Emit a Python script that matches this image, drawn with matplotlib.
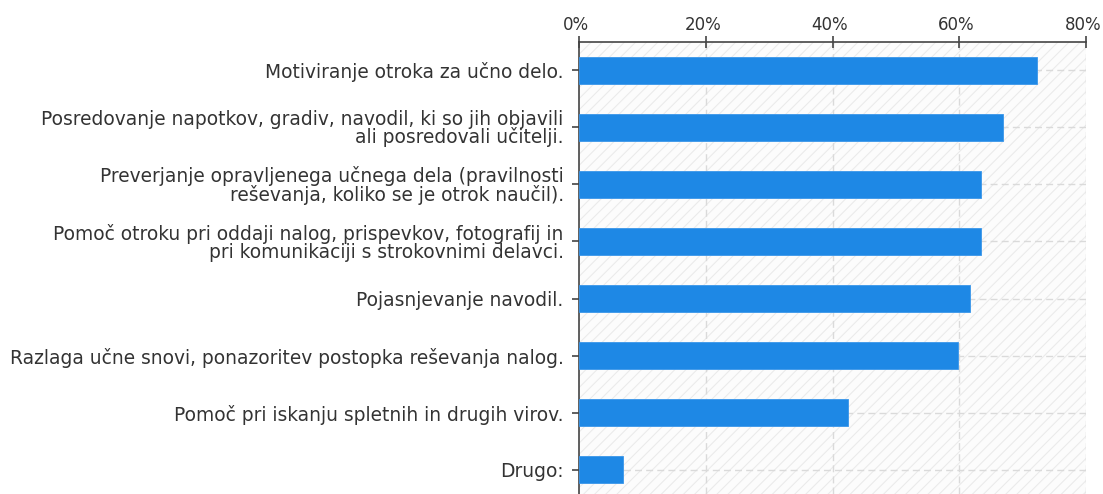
import matplotlib
matplotlib.use("Agg")
import matplotlib.pyplot as plt
from matplotlib.patches import Rectangle
from matplotlib.transforms import ScaledTranslation
import matplotlib as mpl

categories = [
    "Motiviranje otroka za učno delo.",
    "Posredovanje napotkov, gradiv, navodil, ki so jih objavili\nali posredovali učitelji.",
    "Preverjanje opravljenega učnega dela (pravilnosti\nreševanja, koliko se je otrok naučil).",
    "Pomoč otroku pri oddaji nalog, prispevkov, fotografij in\npri komunikaciji s strokovnimi delavci.",
    "Pojasnjevanje navodil.",
    "Razlaga učne snovi, ponazoritev postopka reševanja nalog.",
    "Pomoč pri iskanju spletnih in drugih virov.",
    "Drugo:",
]
values = [72.3, 66.9, 63.4, 63.4, 61.7, 59.8, 42.4, 7.0]
xticks = [0, 20, 40, 60, 80]
xticklabels = ["0%", "20%", "40%", "60%", "80%"]

mpl.rcParams['font.family'] = ['DejaVu Sans']
mpl.rcParams['hatch.color'] = '#ebebeb'
mpl.rcParams['hatch.linewidth'] = 0.8

W, H = 1103, 494
fig = plt.figure(figsize=(W / 100, H / 100), dpi=100)
left_px, right_px, top_px, bot_px = 579, 1086, 42, 494
ax = fig.add_axes([left_px / W, 1 - bot_px / H, (right_px - left_px) / W, (bot_px - top_px) / H])

band = 57.0
units = (bot_px - top_px) / band
ax.set_xlim(0, 80)
ax.set_ylim(-0.5 + units, -0.5)

ax.set_facecolor('#fcfcfc')
bg = Rectangle((0, 0), 1, 1, transform=ax.transAxes, facecolor='#fcfcfc',
               edgecolor='#ebebeb', hatch='///', linewidth=0, zorder=0)
ax.add_patch(bg)

y = list(range(len(categories)))
for yy in y:
    ax.axhline(yy, color='#dadada', lw=1, ls=(0, (5, 3)), zorder=1)
for xv in xticks[1:]:
    ax.axvline(xv, color='#dadada', lw=1, ls=(0, (5, 3)), zorder=1)

ax.barh(y, values, height=0.48, color='#1e88e5', edgecolor='#3a96ea', lw=0.6, zorder=3)

ax.xaxis.tick_top()
ax.set_xticks(xticks)
ax.set_xticklabels(xticklabels)
ax.set_yticks(y)
ax.set_yticklabels(categories, ha='right', linespacing=0.9)

for s in ['right', 'bottom']:
    ax.spines[s].set_visible(False)
for s in ['top', 'left']:
    ax.spines[s].set_color('#444444')
    ax.spines[s].set_linewidth(1.2)

ax.tick_params(axis='x', which='both', direction='inout', length=9, width=1.2,
               color='#444444', labelsize=12, labelcolor='#333333', pad=1)
ax.tick_params(axis='y', which='both', direction='out', length=5, width=1.2,
               color='#444444', labelsize=13.4, labelcolor='#333333', pad=6)

off = ScaledTranslation(-3 / 100, 0, fig.dpi_scale_trans)
for lab in ax.get_xticklabels():
    lab.set_transform(lab.get_transform() + off)

fig.savefig("out.png", dpi=100)
